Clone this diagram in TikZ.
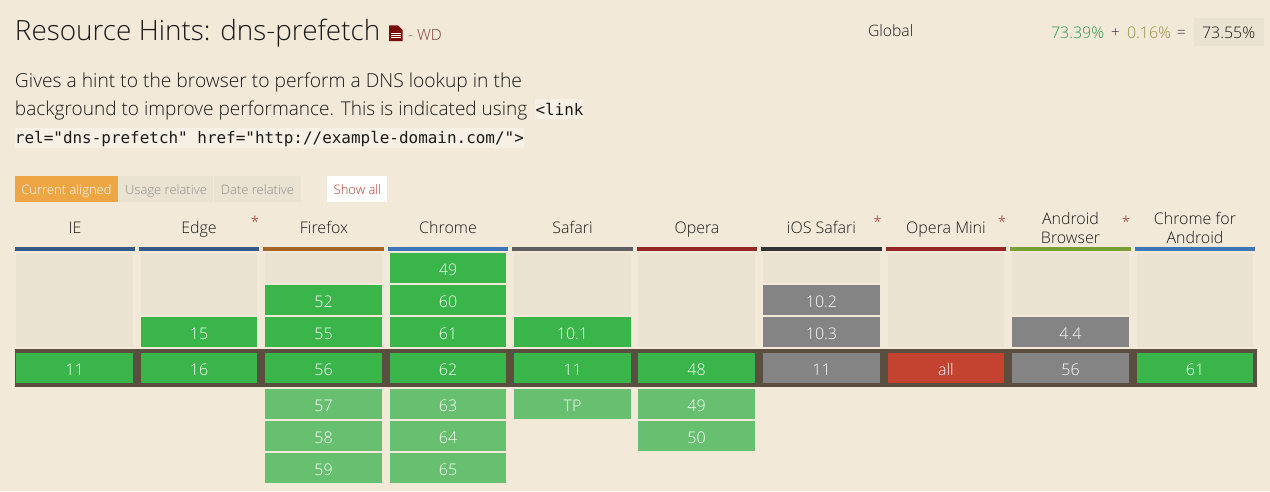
\documentclass[tikz,border=0pt]{standalone}
\usepackage{fontspec}
\setmainfont{Open Sans Light}
\setmonofont{DejaVu Sans Mono}
\definecolor{bg}{HTML}{F3E9D9}
\definecolor{empty}{HTML}{EBE3D1}
\definecolor{ink}{HTML}{1A1A1A}
\definecolor{yes}{HTML}{39B54A}
\definecolor{future}{HTML}{66C06F}
\definecolor{unk}{HTML}{848484}
\definecolor{no}{HTML}{C44230}
\definecolor{band}{HTML}{5A4F3F}
\definecolor{orangebtn}{HTML}{EEA645}
\definecolor{docred}{HTML}{7A0C0C}
\definecolor{wdtext}{HTML}{7A3B3B}
\definecolor{usegreen}{HTML}{239A45}
\definecolor{useolive}{HTML}{98903A}
\definecolor{codebg}{HTML}{F6F0E5}
\definecolor{cblue}{HTML}{3F76B8}
\definecolor{eblue}{HTML}{355988}
\definecolor{ffbrown}{HTML}{A36426}
\definecolor{sgrey}{HTML}{5E5E5E}
\definecolor{ored}{HTML}{952626}
\definecolor{idark}{HTML}{333333}
\definecolor{agreen}{HTML}{7AA136}
\tikzset{
  x=1pt,y=-1pt,
  txt/.style={inner sep=0pt,outer sep=0pt,anchor=base,text=ink},
  txtl/.style={txt,anchor=base west},
  cellt/.style={inner sep=0pt,anchor=base,text=white,font=\fontsize{16}{18}\selectfont},
  head/.style={txt,align=center,font=\fontsize{16}{19.5}\selectfont},
  star/.style={inner sep=0pt,anchor=base,text=no!85!black,font=\fontsize{15}{18}\selectfont},
  code/.style={txtl,font=\ttfamily\fontsize{15.95}{18}\selectfont},
  para/.style={txtl,font=\fontsize{19.1}{24}\selectfont},
  tab/.style={inner sep=0pt,anchor=base,font=\fontsize{13}{16}\selectfont},
}
\newcommand{\cellbox}[7]{% name x1 x2 ytop fill text
  \fill[#5] (#2,#4) rectangle (#3,#4+30);
  \node[cellt] (#1) at ({(#2+#3)/2},#4+22) {#6#7};
}
\begin{document}
\begin{tikzpicture}
\useasboundingbox[fill=bg] (0,0) rectangle (1270,491);
% title
\node[txtl,font=\fontsize{27.9}{32}\selectfont] (title) at (15,40) {Resource Hints: dns-prefetch};
\fill[docred] (389,25.3) -- (398,25.3) -- (402.7,30) -- (402.7,41) -- (389,41) -- cycle;
\draw[white,line width=.7pt] (391,33.5) -- (400.5,33.5) (391,35.6) -- (400.5,35.6) (391,37.7) -- (400.5,37.7);
\node[txtl,font=\fontsize{15.5}{18}\selectfont,text=wdtext] (status) at (408,40) {- WD};
% global
\node[txtl,font=\fontsize{15.7}{18}\selectfont] (global) at (868,36) {Global};
\fill[empty] (1194,18) rectangle (1264,46);
\node[txtl,font=\fontsize{16}{18}\selectfont,text=usegreen] (u1) at (1051,38) {73.39\%};
\node[txtl,font=\fontsize{15}{18}\selectfont] (plus) at (1111,37.5) {+};
\node[txtl,font=\fontsize{16}{18}\selectfont,text=useolive] (u2) at (1127,38) {0.16\%};
\node[txtl,font=\fontsize{15}{18}\selectfont] (eq) at (1177,37.5) {=};
\node[txtl,font=\fontsize{16}{18}\selectfont] (tot) at (1202,38) {73.55\%};
% description
\fill[codebg] (535,99) rectangle (583,119);
\fill[codebg] (15,128) rectangle (523.5,148);
\node[para,font=\fontsize{19.25}{24}\selectfont] (d1) at (15,87) {Gives a hint to the browser to perform a DNS lookup in the};
\node[para,font=\fontsize{19.05}{24}\selectfont] (d2) at (15,115) {background to improve performance. This is indicated using};
\node[code] (d3) at (535.5,115) {<link};
\node[code] (d4) at (15,143.5) {rel="dns-prefetch" href="http://example-domain.com/">};
% tabs
\fill[orangebtn] (15,176) rectangle (118,202);
\fill[empty] (119,176) rectangle (213,202);
\fill[empty] (214,176) rectangle (301,202);
\fill[white] (327,176) rectangle (387,202);
\node[tab,text=white] (t1) at (66.5,194) {Current aligned};
\node[tab,text=black!45] (t2) at (166,194) {Usage relative};
\node[tab,text=black!45] (t3) at (257.5,194) {Date relative};
\node[tab,text=no!90!black] (t4) at (357.5,194) {Show all};
% headers
\foreach \na/\xa/\xb/\col in {ie/15/135/eblue,ed/139/259/eblue,ff/263/384/ffbrown,ch/388/508/cblue,sa/512/633/sgrey,op/637/757/ored,io/761/882/idark,mi/886/1006/ored,an/1010/1131/agreen,ca/1135/1255/cblue}{
  \fill[\col] (\xa,247) rectangle (\xb,251);
}
\node[head] (hie) at (75,233) {IE};
\node[head] (hed) at (199,233) {Edge};
\node[head] (hff) at (324,233) {Firefox};
\node[head] (hch) at (448,233) {Chrome};
\node[head] (hsa) at (572.5,233) {Safari};
\node[head] (hop) at (697,233) {Opera};
\node[head] (hio) at (821.5,233) {iOS Safari};
\node[head] (hmi) at (946,233) {Opera Mini};
\node[head] (han) at (1070.5,224) {Android};
\node[head] (han2) at (1070.5,243) {Browser};
\node[head] (hca) at (1195,224) {Chrome for};
\node[head] (hca2) at (1195,243) {Android};
\node[star] (s1) at (255,227) {*};
\node[star] (s2) at (877.5,227) {*};
\node[star] (s3) at (1002,227) {*};
\node[star] (s4) at (1126,227) {*};
% band
\fill[band] (15,349) rectangle (1257,387);
% empty areas
\fill[empty] (16,253) rectangle (133,347);
\fill[empty] (141,253) rectangle (257,315);
\fill[empty] (265,253) rectangle (382,283);
\fill[empty] (514,253) rectangle (631,315);
\fill[empty] (638,253) rectangle (755,347);
\fill[empty] (763,253) rectangle (880,283);
\fill[empty] (888,253) rectangle (1004,347);
\fill[empty] (1012,253) rectangle (1129,315);
\fill[empty] (1137,253) rectangle (1253,347);
% rows
\cellbox{c1}{141}{257}{317}{yes}{}{15}
\cellbox{c2}{265}{382}{285}{yes}{}{52}
\cellbox{c3}{265}{382}{317}{yes}{}{55}
\cellbox{c4}{390}{506}{253}{yes}{}{49}
\cellbox{c5}{390}{506}{285}{yes}{}{60}
\cellbox{c6}{390}{506}{317}{yes}{}{61}
\cellbox{c7}{514}{631}{317}{yes}{}{10.1}
\cellbox{c8}{763}{880}{285}{unk}{}{10.2}
\cellbox{c9}{763}{880}{317}{unk}{}{10.3}
\cellbox{c10}{1012}{1129}{317}{unk}{}{4.4}
% current
\cellbox{n1}{16}{133}{353}{yes}{}{11}
\cellbox{n2}{141}{257}{353}{yes}{}{16}
\cellbox{n3}{265}{382}{353}{yes}{}{56}
\cellbox{n4}{390}{506}{353}{yes}{}{62}
\cellbox{n5}{514}{631}{353}{yes}{}{11}
\cellbox{n6}{638}{755}{353}{yes}{}{48}
\cellbox{n7}{763}{880}{353}{unk}{}{11}
\cellbox{n8}{888}{1004}{353}{no}{}{all}
\cellbox{n9}{1012}{1129}{353}{unk}{}{56}
\cellbox{n10}{1137}{1253}{353}{yes}{}{61}
% future
\cellbox{f1}{265}{382}{389}{future}{}{57}
\cellbox{f2}{265}{382}{421}{future}{}{58}
\cellbox{f3}{265}{382}{453}{future}{}{59}
\cellbox{f4}{390}{506}{389}{future}{}{63}
\cellbox{f5}{390}{506}{421}{future}{}{64}
\cellbox{f6}{390}{506}{453}{future}{}{65}
\cellbox{f7}{514}{631}{389}{future}{}{TP}
\cellbox{f8}{638}{755}{389}{future}{}{49}
\cellbox{f9}{638}{755}{421}{future}{}{50}
\end{tikzpicture}
\end{document}
